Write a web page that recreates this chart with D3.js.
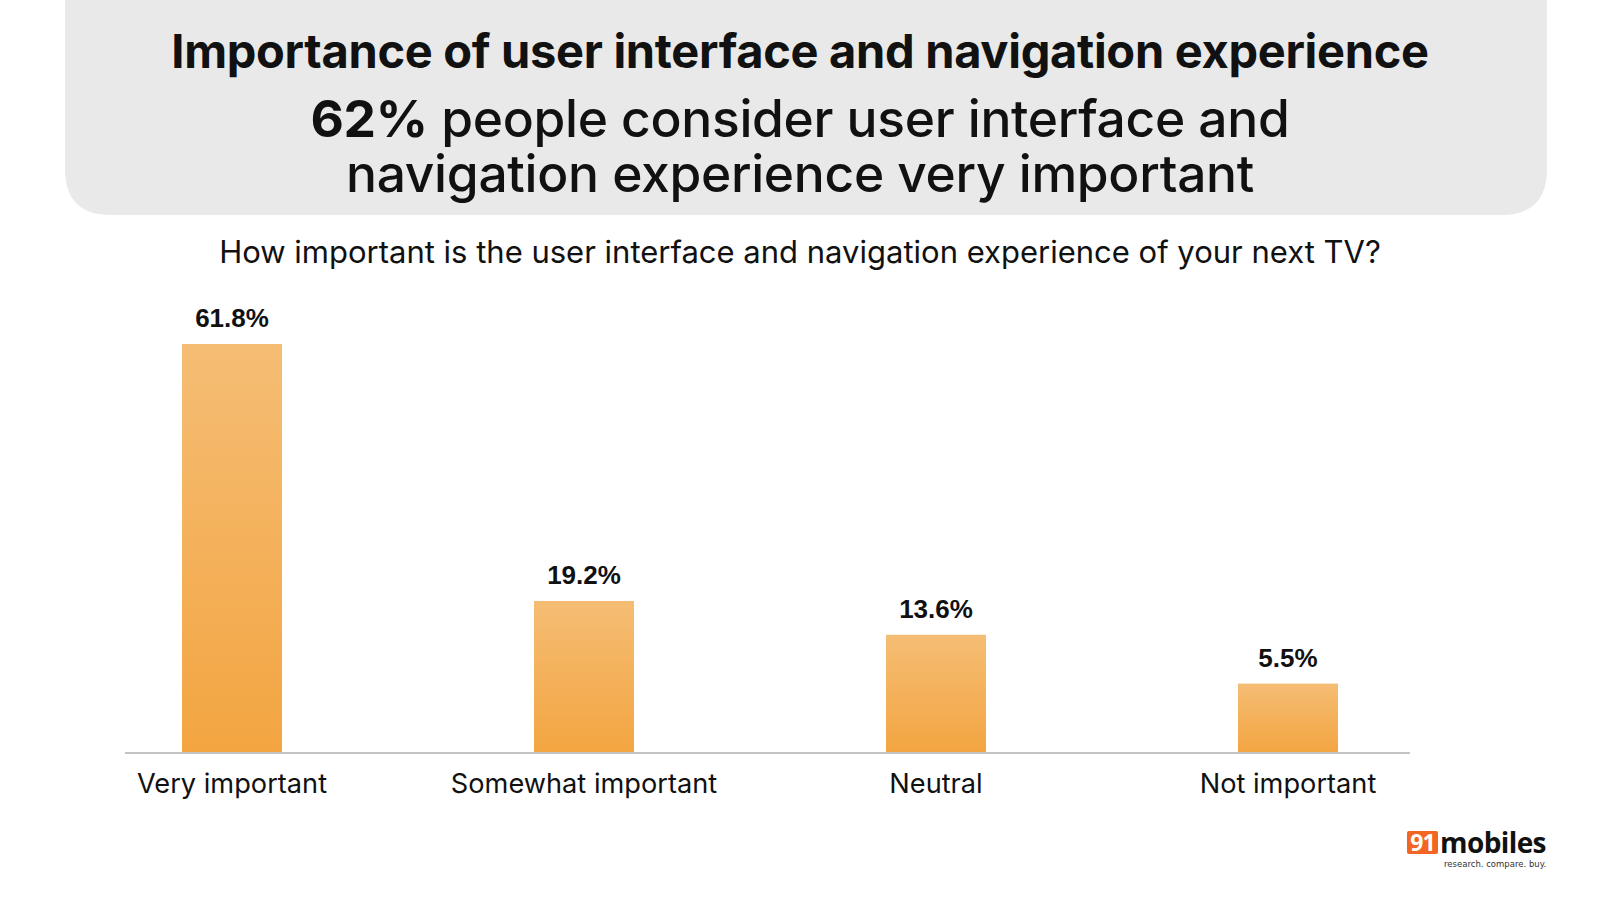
<!DOCTYPE html>
<html>
<head>
<meta charset="utf-8">
<script src="https://cdn.jsdelivr.net/npm/d3@7"></script>
<style>
  body { margin: 0; background: #fff; }
  svg { display: block; }
  text { font-family: Inter, "Noto Sans", sans-serif; fill: #111; }
</style>
</head>
<body>
<div id="chart-area"></div>
<script>
// Chart data
const categories = ["Very important", "Somewhat important", "Neutral", "Not important"];
const shares = [61.8, 19.2, 13.6, 5.5];
const valueLabels = ["61.8%", "19.2%", "13.6%", "5.5%"];

const titleText = "Importance of user interface and navigation experience";
const subtitleLines = [
  ["62%", " people consider user interface and"],
  ["", "navigation experience very important"],
];
const questionText = "How important is the user interface and navigation experience of your next TV?";

// Colour palette
const COLORS = {
  header: "#e9e9e9",
  barTop: "#f5bd74",
  barBottom: "#f3a541",
  axis: "#c4c4c4",
  text: "#111111",
  logoOrange: "#f26522",
};

const width = 1600;
const height = 900;

const svg = d3.select("#chart-area").append("svg")
  .attr("width", width)
  .attr("height", height);

// Gradient for bars
const defs = svg.append("defs");
const grad = defs.append("linearGradient")
  .attr("id", "barGrad")
  .attr("x1", 0).attr("y1", 0).attr("x2", 0).attr("y2", 1);
grad.append("stop").attr("offset", "0%").attr("stop-color", COLORS.barTop);
grad.append("stop").attr("offset", "100%").attr("stop-color", COLORS.barBottom);

// Header box (rounded bottom corners only)
const hx0 = 65, hx1 = 1547, hy1 = 215, r = 46;
svg.append("path")
  .attr("d", `M${hx0},-10 L${hx1},-10 L${hx1},${hy1 - r} Q${hx1},${hy1} ${hx1 - r},${hy1}
    L${hx0 + r},${hy1} Q${hx0},${hy1} ${hx0},${hy1 - r} Z`)
  .attr("fill", COLORS.header);

svg.append("text")
  .attr("x", 800).attr("y", 68)
  .attr("text-anchor", "middle")
  .style("font-size", "47px")
  .style("font-weight", 700)
  .style("letter-spacing", "-0.3px")
  .text(titleText);

// Subtitle: one text block, two lines
const subtitle = svg.append("text")
  .attr("x", 800).attr("y", 137)
  .attr("text-anchor", "middle")
  .style("font-size", "51.5px")
  .style("font-weight", 500)
  .style("letter-spacing", "-0.3px");

subtitleLines.forEach((line, i) => {
  const first = subtitle.append("tspan")
    .attr("x", 800)
    .attr("dy", i === 0 ? 0 : 55);
  if (line[0]) {
    first.style("font-weight", 700).text(line[0]);
    subtitle.append("tspan").text(line[1]);
  } else {
    first.text(line[1]);
  }
});

svg.append("text")
  .attr("x", 800).attr("y", 263)
  .attr("text-anchor", "middle")
  .style("font-size", "31px")
  .style("font-weight", 400)
  .text(questionText);

// Scales
const baseline = 753;
const x = d3.scaleBand()
  .domain(categories)
  .range([56, 1464])
  .paddingInner(0.716)
  .paddingOuter(0.358);

const y = d3.scaleLinear()
  .domain([-6, 61.8])
  .range([baseline, 344]);

const data = categories.map((c, i) => ({ cat: c, value: shares[i], label: valueLabels[i] }));

const g = svg.append("g");

g.selectAll(".bar")
  .data(data)
  .enter()
  .append("rect")
  .attr("class", "bar")
  .attr("x", (d) => x(d.cat))
  .attr("y", (d) => y(d.value))
  .attr("width", x.bandwidth())
  .attr("height", (d) => baseline - y(d.value))
  .attr("fill", "url(#barGrad)");

g.selectAll(".value-label")
  .data(data)
  .enter()
  .append("text")
  .attr("class", "value-label")
  .attr("x", (d) => x(d.cat) + x.bandwidth() / 2)
  .attr("y", (d) => y(d.value) - 17)
  .attr("text-anchor", "middle")
  .style("font-family", "'Liberation Sans', Arial, sans-serif")
  .style("font-size", "26px")
  .style("font-weight", 700)
  .text((d) => d.label);

// X axis
const xAxis = g.append("g")
  .attr("class", "xaxis")
  .attr("transform", `translate(0, ${baseline})`)
  .call(d3.axisBottom(x).tickSize(0).tickPadding(40));

xAxis.select(".domain").remove();
xAxis.append("line")
  .attr("x1", 125).attr("x2", 1410)
  .attr("stroke", COLORS.axis)
  .attr("stroke-width", 2);

xAxis.selectAll(".tick text")
  .style("font-family", "Inter, 'Noto Sans', sans-serif")
  .style("font-size", "27.2px")
  .style("fill", COLORS.text)
  .attr("dy", "0");

// Logo
const logo = svg.append("g").attr("transform", "translate(1407, 831)");
logo.append("rect")
  .attr("width", 31).attr("height", 23).attr("rx", 2)
  .attr("fill", COLORS.logoOrange);
logo.append("text")
  .attr("x", 15.5).attr("y", 20)
  .attr("text-anchor", "middle")
  .style("font-family", "'Open Sans', sans-serif")
  .style("font-size", "23px")
  .style("font-weight", 700)
  .style("letter-spacing", "-1px")
  .style("fill", "#fff")
  .text("91");
logo.append("text")
  .attr("x", 33).attr("y", 22)
  .style("font-family", "'Open Sans', sans-serif")
  .style("font-size", "28px")
  .style("font-weight", 700)
  .style("letter-spacing", "-0.6px")
  .style("fill", "#111")
  .text("mobiles");
logo.append("text")
  .attr("x", 37).attr("y", 36)
  .style("font-family", "'DejaVu Sans', sans-serif")
  .style("font-size", "8.5px")
  .style("letter-spacing", "0px")
  .style("fill", "#333")
  .text("research. compare. buy.");
</script>
</body>
</html>
